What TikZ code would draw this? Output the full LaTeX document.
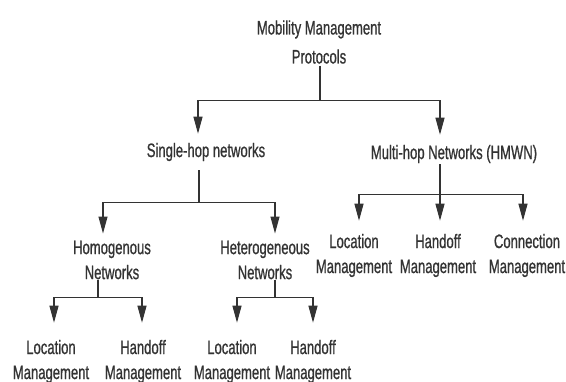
\documentclass[tikz,border=0pt]{standalone}
\usepackage{fontspec}
\setmainfont[FakeStretch=0.67,FakeBold=0.8]{Liberation Sans}
\usetikzlibrary{arrows.meta}
\begin{document}
\begin{tikzpicture}[x=1pt,y=-1pt,
  lbl/.style={inner sep=0pt,align=center,text=black!80,font=\fontsize{19.5}{25}\selectfont},
  conn/.style={draw=black!80,line width=1.1pt},
  arr/.style={conn,-{Triangle[length=17pt,width=9pt]}}]
\useasboundingbox (0,0) rectangle (566,381);
\node[lbl,font=\fontsize{19.5}{29}\selectfont] (root) at (319,42) {Mobility Management\\Protocols};
\node[lbl] (single) at (206,152) {Single-hop networks};
\node[lbl] (multi) at (454,154) {Multi-hop Networks (HMWN)};
\node[lbl] (homo) at (112,260) {Homogenous\\Networks};
\node[lbl] (hetero) at (265,260) {Heterogeneous\\Networks};
\node[lbl] (rl) at (354,255.5) {Location\\Management};
\node[lbl] (rh) at (438,255.5) {Handoff\\Management};
\node[lbl] (rc) at (527,255.5) {Connection\\Management};
\node[lbl] (bl1) at (51,361.5) {Location\\Management};
\node[lbl] (bh1) at (143,361.5) {Handoff\\Management};
\node[lbl] (bl2) at (232,361.5) {Location\\Management};
\node[lbl] (bh2) at (313,361.5) {Handoff\\Management};
% root
\draw[arr] ([xshift=1pt,yshift=-2pt]root.south) -- ++(0,35) -| ([xshift=-8pt,yshift=9pt]single.north);
\draw[arr] ([xshift=1pt,yshift=-2pt]root.south) -- ++(0,35) -| ([xshift=-14pt,yshift=10pt]multi.north);
% single
\draw[arr] ([xshift=-7pt,yshift=-9pt]single.south) -- ++(0,32) -| ([xshift=-9pt,yshift=7pt]homo.north);
\draw[arr] ([xshift=-7pt,yshift=-9pt]single.south) -- ++(0,32) -| ([xshift=10pt,yshift=7pt]hetero.north);
% multi
\draw[arr] ([xshift=-14pt,yshift=-1pt]multi.south) -- ++(0,30) -| ([xshift=5pt,yshift=13pt]rl.north);
\draw[arr] ([xshift=-14pt,yshift=-1pt]multi.south) -- ([xshift=2pt,yshift=13pt]rh.north);
\draw[arr] ([xshift=-14pt,yshift=-1pt]multi.south) -- ++(0,30) -| ([xshift=-4pt,yshift=13pt]rc.north);
% homo
\draw[arr] ([xshift=-14pt]homo.south) -- ++(0,18) -| ([xshift=3pt,yshift=17pt]bl1.north);
\draw[arr] ([xshift=-14pt]homo.south) -- ++(0,18) -| ([xshift=-1pt,yshift=17pt]bh1.north);
% hetero
\draw[arr] ([xshift=10pt]hetero.south) -- ++(0,18) -| ([xshift=5pt,yshift=17pt]bl2.north);
\draw[arr] ([xshift=10pt]hetero.south) -- ++(0,18) -| ([xshift=0pt,yshift=17pt]bh2.north);
\end{tikzpicture}
\end{document}
